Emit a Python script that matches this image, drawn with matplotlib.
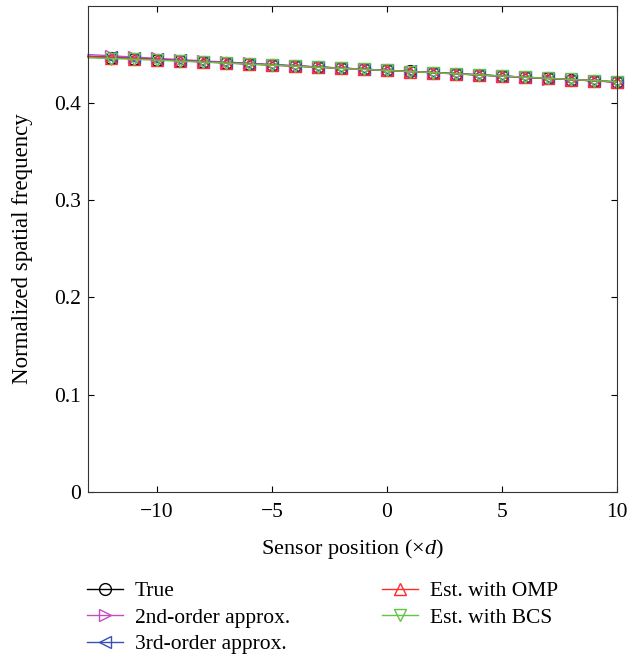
import numpy as np
import matplotlib.pyplot as plt

plt.rcParams['font.family'] = ['Liberation Serif', 'DejaVu Serif']
plt.rcParams['mathtext.fontset'] = 'custom'
plt.rcParams['mathtext.it'] = 'Liberation Serif:italic'
plt.rcParams['mathtext.rm'] = 'Liberation Serif'

# posiciones de sensores (la primera sin marcador)
posicion = np.arange(-13, 11)

verdadero = [0.4476, 0.4465, 0.4455, 0.4444, 0.4433, 0.4422, 0.4411, 0.4400,
             0.4389, 0.4378, 0.4367, 0.4356, 0.4345, 0.4333, 0.4322, 0.4310,
             0.4299, 0.4287, 0.4275, 0.4263, 0.4251, 0.4239, 0.4227, 0.4215]
orden2 = [0.4496, 0.4483, 0.4470, 0.4457, 0.4444, 0.4431, 0.4418, 0.4406,
          0.4393, 0.4381, 0.4369, 0.4357, 0.4345, 0.4333, 0.4321, 0.4309,
          0.4297, 0.4285, 0.4273, 0.4261, 0.4249, 0.4237, 0.4225, 0.4213]
orden3 = [0.4479, 0.4468, 0.4457, 0.4446, 0.4435, 0.4424, 0.4413, 0.4402,
          0.4391, 0.4379, 0.4368, 0.4357, 0.4345, 0.4334, 0.4322, 0.4311,
          0.4299, 0.4287, 0.4275, 0.4263, 0.4251, 0.4238, 0.4226, 0.4213]
omp = [0.4474, 0.4463, 0.4454, 0.4442, 0.4432, 0.4420, 0.4410, 0.4398,
       0.4388, 0.4376, 0.4366, 0.4354, 0.4344, 0.4332, 0.4321, 0.4309,
       0.4298, 0.4286, 0.4274, 0.4262, 0.4250, 0.4238, 0.4226, 0.4214]
bcs = [0.4462, 0.4455, 0.4447, 0.4438, 0.4428, 0.4418, 0.4408, 0.4397,
       0.4387, 0.4376, 0.4365, 0.4354, 0.4343, 0.4332, 0.4321, 0.4310,
       0.4298, 0.4287, 0.4275, 0.4263, 0.4252, 0.4240, 0.4228, 0.4216]

series = [
    (verdadero, 'True', 'black', 'o'),
    (orden2, '2nd-order approx.', '#c24ec2', '>'),
    (orden3, '3rd-order approx.', '#3652b4', '<'),
    (omp, 'Est. with OMP', '#ff2a2a', '^'),
    (bcs, 'Est. with BCS', '#64c444', 'v'),
]

fig = plt.figure(figsize=(6.39, 6.57), dpi=100)
ax = fig.add_axes([0.1377, 0.2511, 0.8279, 0.7398])

for datos, nombre, color, marca in series:
    ax.plot(posicion, datos, color=color, marker=marca, markersize=8.5,
            markerfacecolor='none', markeredgewidth=1.0, linewidth=1.0,
            markevery=slice(1, None), clip_on=False, label=nombre)

ax.set_xlim(-13, 10)
ax.set_ylim(0, 0.4995)
ax.set_xticks([-10, -5, 0, 5, 10])
ax.set_xticklabels(['\u221210', '\u22125', '0', '5', '10'])
ax.set_yticks([0, 0.1, 0.2, 0.3, 0.4])
ax.set_yticklabels(['0', '0.1', '0.2', '0.3', '0.4'])
ax.tick_params(direction='in', labelsize=15.5, top=True, right=True, length=4)
ax.tick_params(axis='x', pad=8)
ax.tick_params(axis='y', pad=5)
for lado in ax.spines.values():
    lado.set_color('#333333')
ax.set_xlabel('Sensor position ($\\times d$)', fontsize=16, labelpad=11)
ax.set_ylabel('Normalized spatial frequency', fontsize=16.5, labelpad=15)

ax.legend(loc='upper left', bbox_to_anchor=(87 / 639, 1 - 581 / 657),
          bbox_transform=fig.transFigure, ncol=2, frameon=False,
          fontsize=15.5, handlelength=1.67, handletextpad=0.55,
          columnspacing=4.3, labelspacing=0.3, borderpad=0, borderaxespad=0)

fig.savefig('out.png', dpi=100)
